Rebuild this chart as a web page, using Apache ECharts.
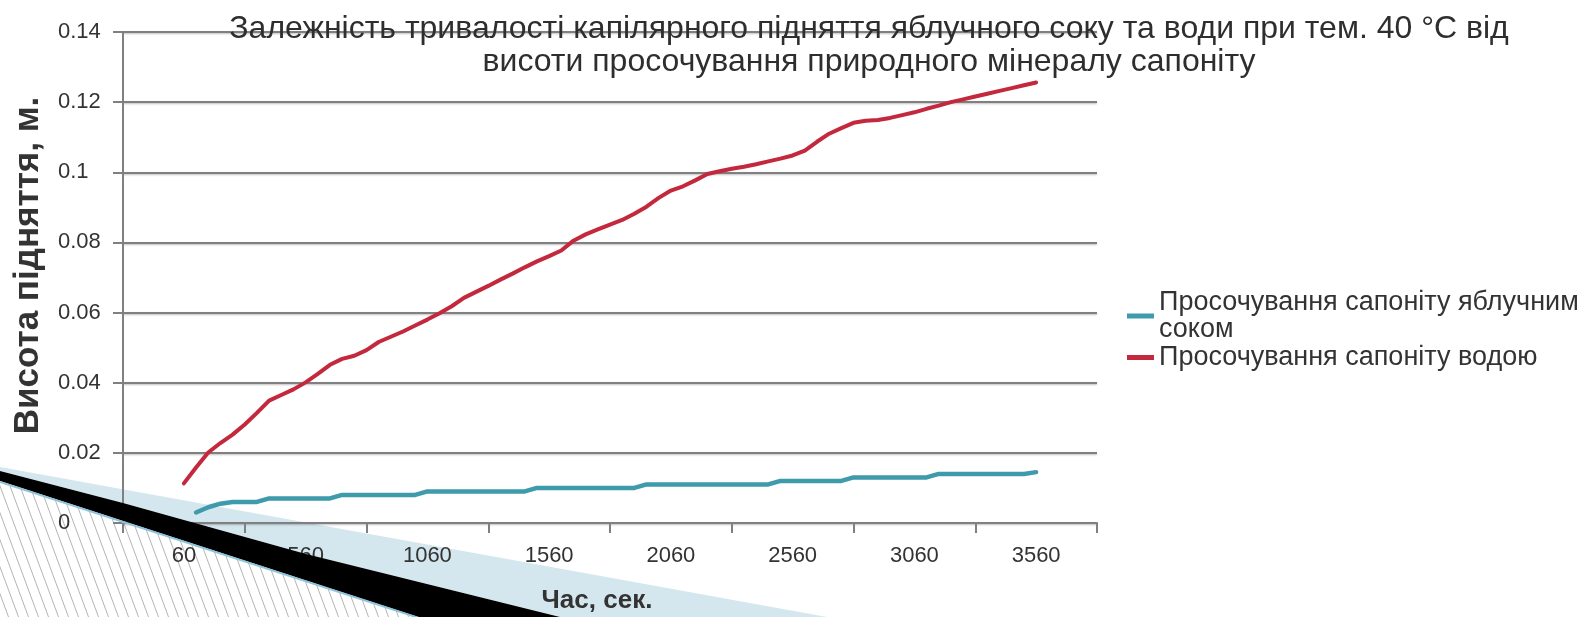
<!DOCTYPE html>
<html>
<head>
<meta charset="utf-8">
<script src="https://cdn.jsdelivr.net/npm/echarts@6/dist/echarts.min.js"></script>
<style>
  html, body { margin: 0; padding: 0; background: #ffffff; }
  #chart { width: 1588px; height: 617px; }
</style>
</head>
<body>
<div id="chart"></div>
<script>
// Time of measurement, s
const times = [
  60, 110, 160, 210, 260, 310, 360, 410, 460, 510,
  560, 610, 660, 710, 760, 810, 860, 910, 960, 1010,
  1060, 1110, 1160, 1210, 1260, 1310, 1360, 1410, 1460, 1510,
  1560, 1610, 1660, 1710, 1760, 1810, 1860, 1910, 1960, 2010,
  2060, 2110, 2160, 2210, 2260, 2310, 2360, 2410, 2460, 2510,
  2560, 2610, 2660, 2710, 2760, 2810, 2860, 2910, 2960, 3010,
  3060, 3110, 3160, 3210, 3260, 3310, 3360, 3410, 3460, 3510,
  3560
];

// Capillary rise height with apple juice, m
const juiceHeight = [
  null, 0.0030, 0.0045, 0.0055, 0.0060, 0.0060, 0.0060, 0.0070, 0.0070, 0.0070,
  0.0070, 0.0070, 0.0070, 0.0080, 0.0080, 0.0080, 0.0080, 0.0080, 0.0080, 0.0080,
  0.0090, 0.0090, 0.0090, 0.0090, 0.0090, 0.0090, 0.0090, 0.0090, 0.0090, 0.0100,
  0.0100, 0.0100, 0.0100, 0.0100, 0.0100, 0.0100, 0.0100, 0.0100, 0.0110, 0.0110,
  0.0110, 0.0110, 0.0110, 0.0110, 0.0110, 0.0110, 0.0110, 0.0110, 0.0110, 0.0120,
  0.0120, 0.0120, 0.0120, 0.0120, 0.0120, 0.0130, 0.0130, 0.0130, 0.0130, 0.0130,
  0.0130, 0.0130, 0.0140, 0.0140, 0.0140, 0.0140, 0.0140, 0.0140, 0.0140, 0.0140,
  0.0145
];

// Capillary rise height with water, m
const waterHeight = [
  0.0113, 0.0158, 0.0201, 0.0228, 0.0252, 0.0281, 0.0314, 0.0349, 0.0365, 0.0381,
  0.0401, 0.0425, 0.0451, 0.0468, 0.0477, 0.0493, 0.0516, 0.0531, 0.0546, 0.0563,
  0.0580, 0.0598, 0.0618, 0.0642, 0.0659, 0.0676, 0.0694, 0.0711, 0.0729, 0.0746,
  0.0761, 0.0777, 0.0805, 0.0823, 0.0837, 0.0851, 0.0864, 0.0882, 0.0902, 0.0927,
  0.0948, 0.0960, 0.0977, 0.0995, 0.1003, 0.1010, 0.1016, 0.1023, 0.1031, 0.1039,
  0.1048, 0.1062, 0.1087, 0.1110, 0.1126, 0.1141, 0.1147, 0.1149, 0.1155, 0.1163,
  0.1171, 0.1181, 0.1190, 0.1200, 0.1208, 0.1216, 0.1224, 0.1232, 0.1240, 0.1248,
  0.1256
];

// X axis: tick marks bound each 500 s group, labels sit in the middle of a group
const xTickTimes = [-190, 310, 810, 1310, 1810, 2310, 2810, 3310, 3810];
const xLabelTimes = [60, 560, 1060, 1560, 2060, 2560, 3060, 3560];

const seriesNames = [
  'Просочування сапоніту яблучним\nсоком',
  'Просочування сапоніту водою'
];
const titleText = 'Залежність тривалості капілярного підняття яблучного соку та води при тем. 40 °С від\n' +
  'висоти просочування природного мінералу сапоніту';

const FONT = '"Liberation Sans", Arial, sans-serif';
const AXIS_GRAY = '#808080';

function pairs(xs, ys) {
  return xs.map((x, i) => [x, ys[i]]);
}

// Diagonal hatching tile for the slide corner
function hatchTile() {
  const c = document.createElement('canvas');
  c.width = 10; c.height = 27;
  const g = c.getContext('2d');
  g.strokeStyle = '#b4b4b4';
  g.lineWidth = 1;
  [-10, 0, 10].forEach(dx => {
    g.beginPath();
    g.moveTo(dx, 0);
    g.lineTo(dx + 10, 27);
    g.stroke();
  });
  return c;
}

const chart = echarts.init(document.getElementById('chart'), null, { renderer: 'canvas' });

chart.setOption({
  backgroundColor: '#ffffff',
  animation: false,
  title: {
    text: titleText,
    left: 864,
    top: 8,
    textAlign: 'center',
    textStyle: {
      fontFamily: FONT, fontSize: 32, fontWeight: 'normal',
      color: '#2e2e2e', lineHeight: 33
    }
  },
  legend: {
    orient: 'vertical',
    left: 1122,
    top: 284,
    itemWidth: 27,
    itemHeight: 5,
    itemGap: 1,
    icon: 'rect',
    data: seriesNames,
    textStyle: { fontFamily: FONT, fontSize: 27, color: '#333333', lineHeight: 27 }
  },
  grid: {
    left: 123, right: 491, top: 32, bottom: 94,
    containLabel: false,
    outerBoundsMode: 'none'
  },
  xAxis: {
    type: 'value',
    min: -190,
    max: 3810,
    name: 'Час, сек.',
    nameLocation: 'middle',
    nameGap: 65,
    nameTextStyle: {
      fontFamily: FONT, fontSize: 26, fontWeight: 'bold', color: '#333333',
      padding: [0, 26, 0, 0]
    },
    axisLine: { show: true, lineStyle: { color: AXIS_GRAY, width: 2 } },
    axisTick: { show: true, length: 10, customValues: xTickTimes, lineStyle: { color: AXIS_GRAY, width: 2 } },
    axisLabel: {
      customValues: xLabelTimes,
      margin: 22,
      fontFamily: FONT, fontSize: 22, color: '#333333',
      formatter: v => String(v)
    },
    splitLine: { show: false }
  },
  yAxis: {
    type: 'value',
    min: 0,
    max: 0.14,
    interval: 0.02,
    name: 'Висота підняття, м.',
    nameLocation: 'middle',
    nameGap: 77,
    nameTextStyle: {
      fontFamily: FONT, fontSize: 35, fontWeight: 'bold', color: '#333333',
      padding: [0, 0, 0, 24]
    },
    axisLine: { show: true, onZero: false, lineStyle: { color: AXIS_GRAY, width: 2 } },
    axisTick: { show: true, length: 10, lineStyle: { color: AXIS_GRAY, width: 2 } },
    axisLabel: {
      align: 'left',
      margin: 65,
      fontFamily: FONT, fontSize: 22, color: '#333333',
      formatter: v => String(parseFloat(v.toFixed(2)))
    },
    splitLine: {
      show: true,
      lineStyle: {
        color: AXIS_GRAY, width: 2,
        shadowColor: 'rgba(0,0,0,0.25)', shadowBlur: 2, shadowOffsetY: 1
      }
    }
  },
  series: [
    {
      name: seriesNames[0],
      type: 'line',
      data: pairs(times, juiceHeight),
      showSymbol: false,
      color: '#3d9bab',
      lineStyle: { width: 4.5, color: '#3d9bab', cap: 'round', join: 'round' },
      z: 3
    },
    {
      name: seriesNames[1],
      type: 'line',
      data: pairs(times, waterHeight),
      showSymbol: false,
      color: '#c3283d',
      lineStyle: { width: 4, color: '#c3283d', cap: 'round', join: 'round' },
      z: 4
    }
  ],
  graphic: [
    {
      type: 'polygon', z: -10, silent: true,
      shape: { points: [[0, 481], [418, 617], [0, 617]] },
      style: { fill: { image: hatchTile(), repeat: 'repeat' } }
    },
    {
      type: 'polygon', z: -9, silent: true,
      shape: { points: [[0, 467], [827, 617], [560, 617], [306, 554], [123, 503], [0, 471]] },
      style: { fill: '#d4e7ef' }
    },
    {
      type: 'polygon', z: 50, silent: true,
      shape: { points: [[0, 471], [123, 503], [306, 554], [560, 617], [418, 617], [0, 481]] },
      style: { fill: '#000000' }
    },
    {
      type: 'polyline', z: 51, silent: true,
      shape: { points: [[0, 482], [419, 618]] },
      style: { stroke: '#8ec4da', lineWidth: 2, fill: null }
    }
  ]
});
</script>
</body>
</html>
